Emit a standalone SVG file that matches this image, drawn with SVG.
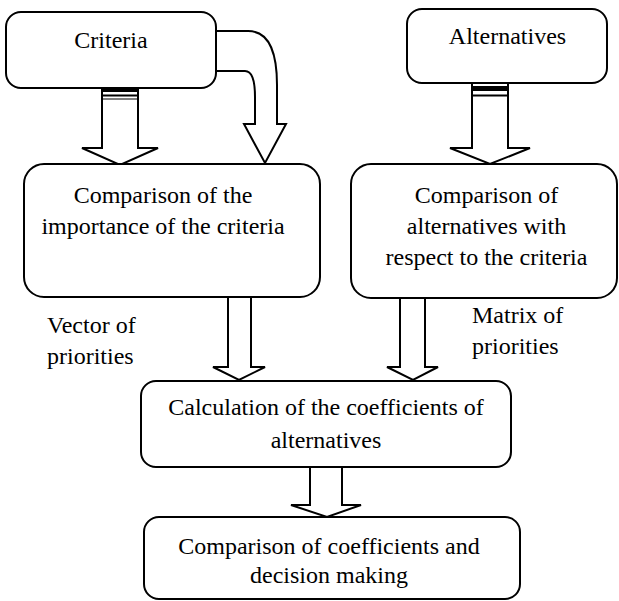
<svg xmlns="http://www.w3.org/2000/svg" width="619" height="601" viewBox="0 0 619 601">
<style>
.box{fill:#fff;stroke:#000;stroke-width:2}
.arr{fill:#fff;stroke:#000;stroke-width:2;stroke-linejoin:miter}
.c{text-anchor:middle}
text{font-family:"Times New Roman","Liberation Serif",Tinos,"DejaVu Serif",serif;font-size:24px}
</style>
<rect width="619" height="601" fill="#fff"/>
<g id="connectors">
  <path class="arr" d="M102,88 L102,148 L82,148 L120,165 L158,148 L138,148 L138,88 Z"/>
  <rect x="102" y="88" width="36" height="4" fill="#000"/>
  <line x1="102" y1="95.5" x2="138" y2="95.5" stroke="#000" stroke-width="2"/>
  <line x1="102" y1="99" x2="138" y2="99" stroke="#000" stroke-width="1"/>
  <path class="arr" d="M213,31 L248,31 Q277,31 277,85 L277,124 L286,124 L265,163 L244,124 L255,124 L255,97 Q255,71 245,71 L213,71 Z"/>
  <path class="arr" d="M472,83 L472,148 L450,148 L490,164 L530,148 L508,148 L508,83 Z"/>
  <rect x="472" y="86" width="36" height="5" fill="#000"/>
  <line x1="472" y1="95.5" x2="508" y2="95.5" stroke="#000" stroke-width="2"/>
  <path class="arr" d="M228,297 L228,367 L213,367 L239,380 L265,367 L251,367 L251,297 Z"/>
  <path class="arr" d="M400,298 L400,367 L387,367 L413,380 L438,367 L425,367 L425,298 Z"/>
  <path class="arr" d="M310,467 L310,505 L291,505 L327,517 L361,505 L342,505 L342,467 Z"/>
</g>
<g id="criteria">
  <rect class="box" x="6" y="12" width="210" height="76" rx="15"/>
  <text class="c" x="111" y="48">Criteria</text>
</g>
<g id="alternatives">
  <rect class="box" x="407" y="9" width="200" height="74" rx="15"/>
  <text class="c" x="507.5" y="44">Alternatives</text>
</g>
<g id="compare-criteria">
  <rect class="box" x="24" y="164" width="296" height="133" rx="20"/>
  <text class="c" x="163" y="203">Comparison of the</text>
  <text class="c" x="163" y="234">importance of the criteria</text>
</g>
<g id="compare-alternatives">
  <rect class="box" x="351" y="164" width="266" height="134" rx="20"/>
  <text class="c" x="486.5" y="203">Comparison of</text>
  <text class="c" x="486.5" y="234">alternatives with</text>
  <text class="c" x="486.5" y="265">respect to the criteria</text>
</g>
<g id="vector-label">
  <text x="47" y="333">Vector of</text>
  <text x="47" y="364">priorities</text>
</g>
<g id="matrix-label">
  <text x="472" y="323">Matrix of</text>
  <text x="472" y="354">priorities</text>
</g>
<g id="calculation">
  <rect class="box" x="141" y="381" width="370" height="86" rx="15"/>
  <text class="c" x="326" y="415">Calculation of the coefficients of</text>
  <text class="c" x="326" y="448">alternatives</text>
</g>
<g id="decision">
  <rect class="box" x="144" y="517" width="376" height="82" rx="15"/>
  <text class="c" x="329" y="554">Comparison of coefficients and</text>
  <text class="c" x="329" y="583">decision making</text>
</g>
</svg>
